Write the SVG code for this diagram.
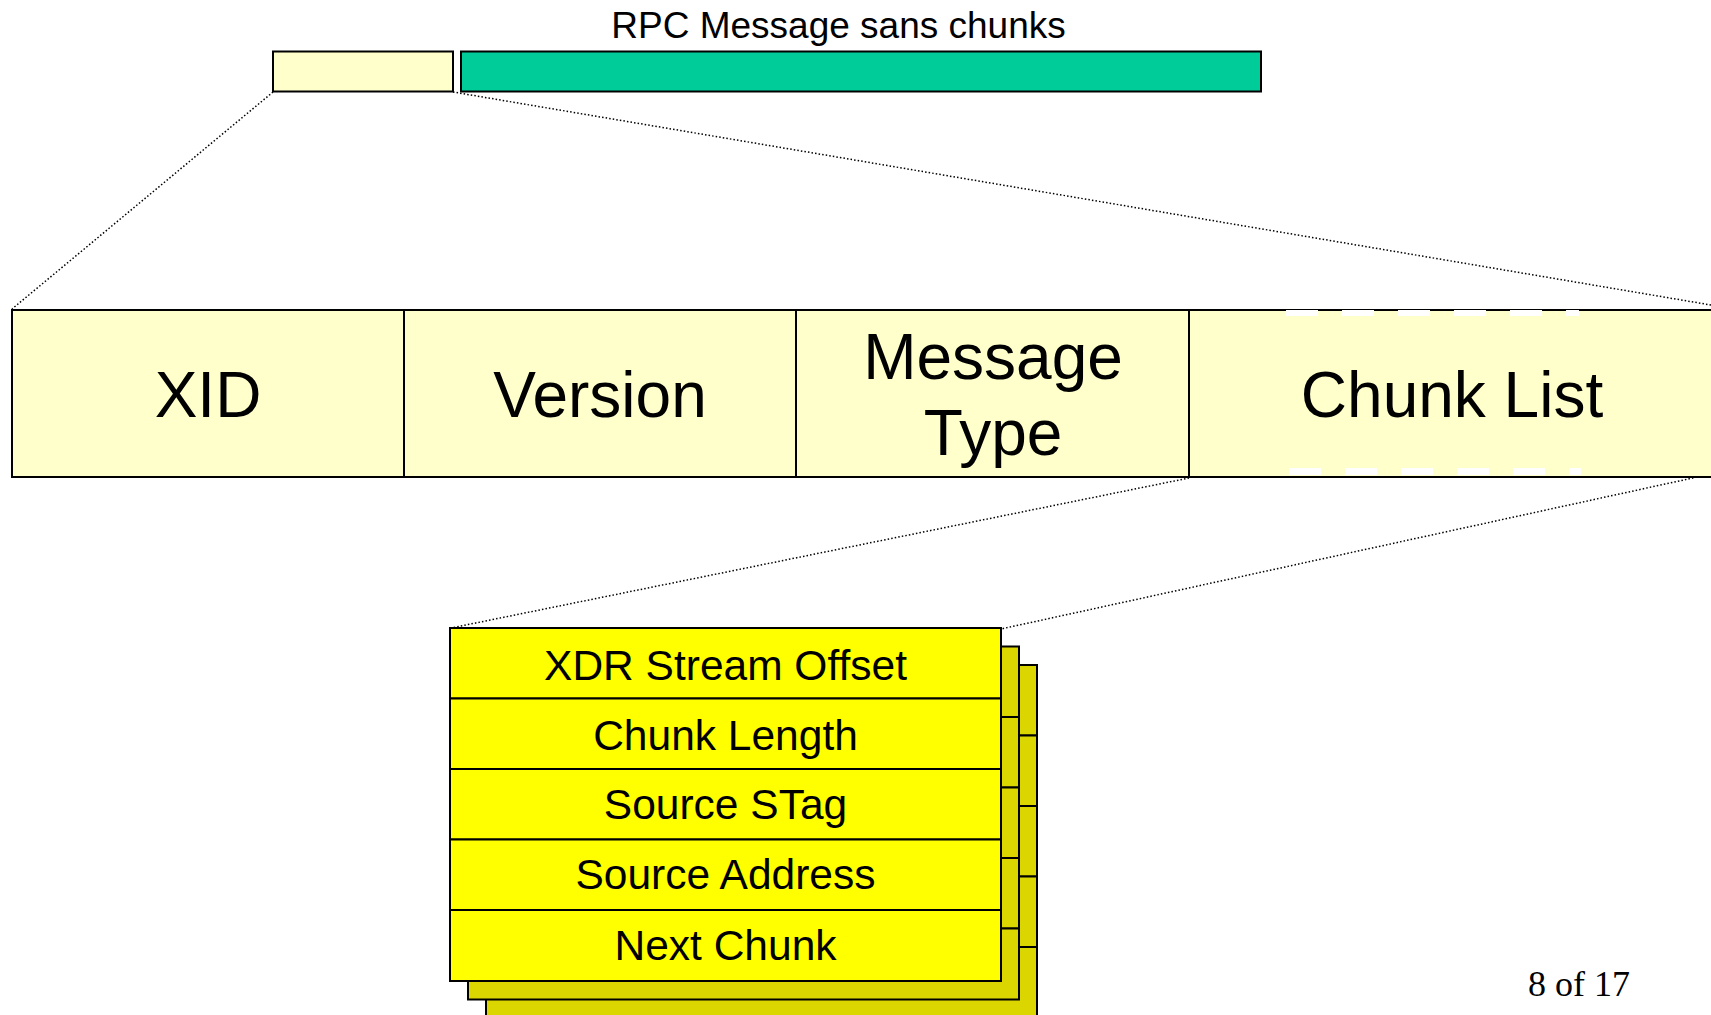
<svg xmlns="http://www.w3.org/2000/svg" width="1711" height="1015" viewBox="0 0 1711 1015">
  <style>
    .box { stroke: #000; stroke-width: 2; }
    .pale { fill: #FFFFCC; }
    .teal { fill: #00CC99; }
    .yel { fill: #FFFF00; }
    .dark { fill: #DCD600; }
    .zoom { fill: none; stroke: #000; stroke-width: 1.5; stroke-dasharray: 1.5 2.1; }
    .big { font-family: "Liberation Sans", Arial, sans-serif; font-size: 64px; fill: #000; text-anchor: middle; }
    .row { font-family: "Liberation Sans", Arial, sans-serif; font-size: 42.5px; fill: #000; text-anchor: middle; }
    .gap { stroke: #FFF; stroke-dasharray: 32 24; fill: none; }
  </style>
  <defs>
    <!-- one chunk record: five stacked fields -->
    <g id="chunkRows">
      <rect class="box" x="0" y="0" width="551" height="70.5"/>
      <rect class="box" x="0" y="70.5" width="551" height="70.5"/>
      <rect class="box" x="0" y="141" width="551" height="70.5"/>
      <rect class="box" x="0" y="211.5" width="551" height="70.5"/>
      <rect class="box" x="0" y="282" width="551" height="71"/>
    </g>
  </defs>

  <rect width="1711" height="1015" fill="#FFF"/>

  <!-- RPC message overview bar -->
  <g id="rpc-message">
    <text x="838.5" y="37.5" font-family="Liberation Sans, Arial, sans-serif" font-size="37" text-anchor="middle">RPC Message sans chunks</text>
    <rect id="header-part" class="box pale" x="273" y="51.5" width="180" height="40"/>
    <rect id="body-part" class="box teal" x="461" y="51.5" width="800" height="40"/>
  </g>

  <!-- zoom guide lines -->
  <g id="connectors">
    <line class="zoom" x1="273" y1="92" x2="12" y2="309"/>
    <line class="zoom" x1="453" y1="92" x2="1711" y2="305"/>
    <line class="zoom" x1="1189" y1="478" x2="451" y2="628"/>
    <line class="zoom" x1="1711" y1="474" x2="1001" y2="629"/>
  </g>

  <!-- header fields -->
  <g id="xid">
    <rect class="box pale" x="12" y="310" width="392" height="167"/>
    <text class="big" x="208" y="417">XID</text>
  </g>
  <g id="version">
    <rect class="box pale" x="404" y="310" width="392" height="167"/>
    <text class="big" x="600" y="417">Version</text>
  </g>
  <g id="message-type">
    <rect class="box pale" x="796" y="310" width="393" height="167"/>
    <text class="big" x="993" y="379">Message</text>
    <text class="big" x="993" y="455">Type</text>
  </g>
  <g id="chunk-list">
    <rect class="box pale" x="1189" y="310" width="600" height="167"/>
    <line class="gap" x1="1286" y1="313" x2="1579" y2="313" stroke-width="6"/>
    <line class="gap" x1="1289" y1="471.5" x2="1581" y2="471.5" stroke-width="7"/>
    <text class="big" x="1452" y="417">Chunk List</text>
  </g>

  <!-- stack of chunk records -->
  <g id="chunk-stack">
    <use href="#chunkRows" class="dark" x="486" y="665"/>
    <use href="#chunkRows" class="dark" x="468" y="646.5"/>
    <use href="#chunkRows" class="yel" x="450" y="628"/>
    <text class="row" x="725.5" y="680">XDR Stream Offset</text>
    <text class="row" x="725.5" y="750">Chunk Length</text>
    <text class="row" x="725.5" y="819">Source STag</text>
    <text class="row" x="725.5" y="889">Source Address</text>
    <text class="row" x="725.5" y="960">Next Chunk</text>
  </g>

  <text id="page-number" x="1528" y="996" font-family="Liberation Serif, 'Times New Roman', serif" font-size="36">8 of 17</text>
</svg>
